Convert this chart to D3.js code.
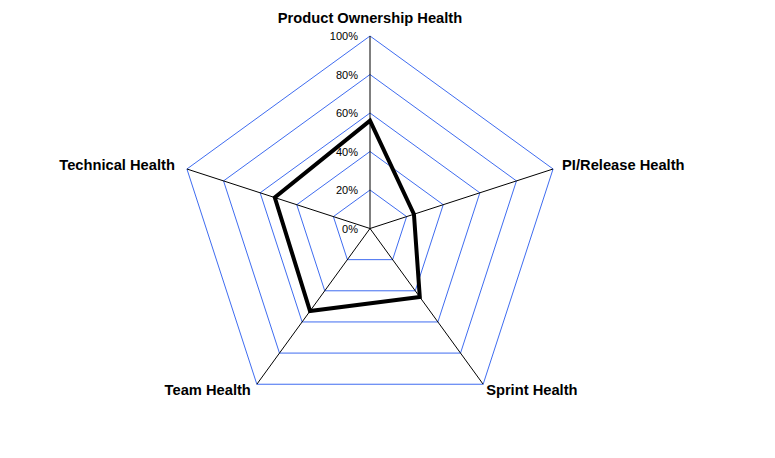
<!DOCTYPE html>
<html><head><meta charset="utf-8">
<script src="https://cdn.jsdelivr.net/npm/d3@7"></script>
<style>body{margin:0;background:#fff;}svg{display:block;font-family:"Liberation Sans",Arial,sans-serif;}</style>
</head><body>
<svg id="c" width="775" height="458"></svg>
<script>
const categories = ["Product Ownership Health","PI/Release Health","Sprint Health","Team Health","Technical Health"];
const values = [56, 24, 44, 53, 52];
const tickValues = [0,20,40,60,80,100];
const tickLabels = ["0%","20%","40%","60%","80%","100%"];

const svg = d3.select("#c");
const cx = 370, cy = 228.5, R = 192.5;
const r = d3.scaleLinear().domain([0,100]).range([0,R]);
const ang = d3.scalePoint().domain(categories.concat(["_"])).range([0, 2*Math.PI]);
const pt = (c, v) => { const a = ang(c); return [cx + r(v)*Math.sin(a), cy - r(v)*Math.cos(a)]; };

const g = svg.append("g");
// grid pentagons
tickValues.filter(t=>t>0).forEach(t=>{
  g.append("path")
    .attr("d", d3.line()(categories.map(c=>pt(c,t))) + "Z")
    .attr("fill","none").attr("stroke","#3f6cf0").attr("stroke-width",1);
});
// axes
categories.forEach(c=>{
  const p = pt(c,100);
  g.append("line").attr("x1",cx).attr("y1",cy).attr("x2",p[0]).attr("y2",p[1])
    .attr("stroke","#000").attr("stroke-width",1);
});
// tick labels
tickValues.forEach((t,i)=>{
  g.append("text").attr("x",cx-12).attr("y",cy - r(t)+4)
    .attr("text-anchor","end").attr("font-size",11).attr("fill","#000").text(tickLabels[i]);
});
// data
g.append("path")
  .attr("d", d3.line()(categories.map((c,i)=>pt(c,values[i]))) + "Z")
  .attr("fill","none").attr("stroke","#000").attr("stroke-width",4).attr("stroke-linejoin","miter");
// category labels
const lab = [
  {dx:0, dy:-13, anchor:"middle"},
  {dx:9, dy:1, anchor:"start"},
  {dx:3, dy:11, anchor:"start"},
  {dx:-6, dy:11, anchor:"end"},
  {dx:-12, dy:1, anchor:"end"}
];
categories.forEach((c,i)=>{
  const p = pt(c,100);
  g.append("text").attr("x",p[0]+lab[i].dx).attr("y",p[1]+lab[i].dy)
    .attr("text-anchor",lab[i].anchor).attr("font-size",14.7).attr("font-weight","bold")
    .attr("fill","#000").text(c);
});
</script>
</body></html>
